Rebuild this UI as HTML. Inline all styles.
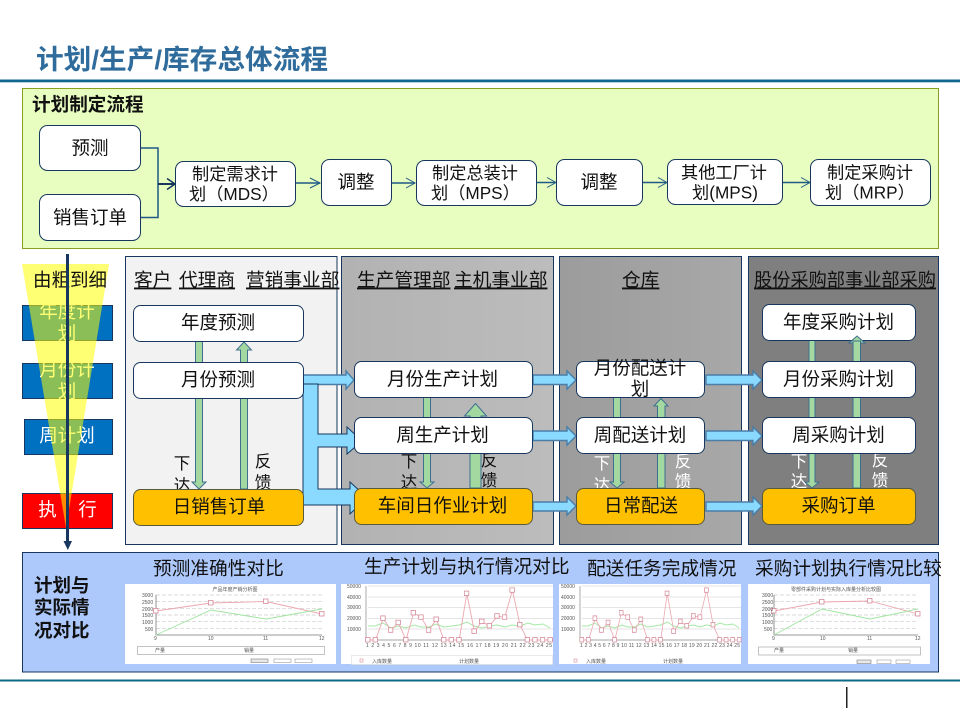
<!DOCTYPE html>
<html><head><meta charset="utf-8"><title>计划/生产/库存总体流程</title>
<style>
html,body{margin:0;padding:0;background:#fff}
svg{display:block;filter:blur(.3px)}
text{font-family:"Liberation Sans","Noto Sans CJK SC",sans-serif;fill:#111}
.c{text-anchor:middle}
.n{fill:#fff;stroke:#17375e;stroke-width:1}
.o{fill:#ffc000;stroke:#5a5a3a;stroke-width:1}
.t{font-size:18.5px}
.s{font-size:17.2px}
.u{font-size:18.7px;text-decoration:underline}
.ln{fill:none;stroke:#1f5a86;stroke-width:1.5}
.g{fill:#a3d9a0;stroke:#3f6f8f;stroke-width:1}
.b{fill:#8ad9ff;stroke:#4a7ea8;stroke-width:1.4}
.tiny{font-size:5px;fill:#555}
.grid{stroke:#ccc;stroke-width:.7;stroke-dasharray:4 2}
.l{font-size:16.5px;text-anchor:middle}
.lw{font-size:16.5px;text-anchor:middle;fill:#fff}
.wt{fill:#fff}
</style></head>
<body>
<svg width="960" height="720" viewBox="0 0 960 720" xmlns="http://www.w3.org/2000/svg">
<defs>
<linearGradient id="p2" x1="0" x2="1" y1="0" y2="0"><stop offset="0" stop-color="#b2b2b2"/><stop offset="1" stop-color="#bcbcbc"/></linearGradient>
<linearGradient id="p3" x1="0" x2="1" y1="0" y2="0"><stop offset="0" stop-color="#9c9c9c"/><stop offset="1" stop-color="#a8a8a8"/></linearGradient>
<marker id="mr" markerUnits="userSpaceOnUse" markerWidth="6" markerHeight="6" refX="3" refY="3"><rect x=".5" y=".5" width="4.5" height="4.5" fill="#fff" stroke="#d88a9a" stroke-width=".8"/></marker>
</defs>

<!-- title -->
<text x="36" y="69" font-size="27" font-weight="bold" style="fill:#2f6c9c" textLength="292" lengthAdjust="spacingAndGlyphs">计划/生产/库存总体流程</text>
<rect x="0" y="79.5" width="960" height="2.8" fill="#0f668f"/>

<!-- top panel -->
<rect x="22.5" y="88.5" width="916" height="160" fill="#e8fdc0" stroke="#8a9f1f" stroke-width="1"/>
<text x="32" y="111" font-size="18.6" font-weight="bold">计划制定流程</text>

<path class="ln" d="M140 148H158V217.5H140"/>
<path d="M158 184H174" fill="none" stroke="#17375e" stroke-width="2"/>
<path d="M167 178.5L175 184L167 189.5" fill="none" stroke="#17375e" stroke-width="1.6"/>
<path class="ln" d="M295 183H320"/><path d="M310 178L320 183L310 188" fill="none" stroke="#1f5a86"/>
<path class="ln" d="M391 183H415"/><path d="M406 178L415 183L406 188" fill="none" stroke="#1f5a86"/>
<path class="ln" d="M536 182.5H555"/><path d="M547 177.5L556 182.5L547 187.5" fill="none" stroke="#1f5a86"/>
<path class="ln" d="M643 182.5H666"/><path d="M658 177.5L667 182.5L658 187.5" fill="none" stroke="#1f5a86"/>
<path class="ln" d="M783 182.5H809"/><path d="M801 177.5L810 182.5L801 187.5" fill="none" stroke="#1f5a86"/>

<rect class="n" x="39.5" y="125.5" width="101" height="45" rx="8"/>
<text class="c t" x="90" y="154.5">预测</text>
<rect class="n" x="39.5" y="194.5" width="101" height="46" rx="8"/>
<text class="c t" x="90" y="224">销售订单</text>

<rect class="n" x="175.5" y="161.5" width="120" height="45" rx="8"/>
<text class="s" x="192" y="180">制定需求计</text>
<text class="s" x="189" y="200">划（MDS）</text>
<rect class="n" x="321.5" y="159.5" width="70" height="46" rx="8"/>
<text class="c t" x="356" y="188.5">调整</text>
<rect class="n" x="416.5" y="160.5" width="120" height="45" rx="8"/>
<text class="s" x="432" y="179">制定总装计</text>
<text class="s" x="431" y="199">划（MPS）</text>
<rect class="n" x="556.5" y="159.5" width="86" height="46" rx="8"/>
<text class="c t" x="599" y="188.5">调整</text>
<rect class="n" x="667.5" y="159.5" width="115" height="45" rx="8"/>
<text class="s c" x="724" y="178.5">其他工厂计</text>
<text class="s c" x="725" y="198.5">划(MPS)</text>
<rect class="n" x="810.5" y="159.5" width="120" height="46" rx="8"/>
<text class="s" x="827" y="178.5">制定采购计</text>
<text class="s" x="825" y="198.5">划（MRP）</text>

<!-- left column -->
<rect x="22.5" y="305.5" width="90" height="35" fill="#0070c0" stroke="#17375e"/>
<rect x="22.5" y="363.5" width="90" height="35" fill="#0070c0" stroke="#17375e"/>
<rect x="24.5" y="419.5" width="88" height="35" fill="#0070c0" stroke="#17375e"/>
<rect x="22.5" y="493.5" width="90" height="35" fill="#ff0000" stroke="#17375e"/>
<text class="c t" x="67" y="318" style="fill:#fff">年度计</text>
<text class="c t" x="67" y="340" style="fill:#fff">划</text>
<text class="c t" x="67" y="376" style="fill:#fff">月份计</text>
<text class="c t" x="67" y="398" style="fill:#fff">划</text>
<text class="c t" x="67" y="442" style="fill:#fff">周计划</text>
<text class="c t" x="47.5" y="516" style="fill:#fff">执</text>
<text class="c t" x="87.5" y="516" style="fill:#fff">行</text>
<polygon points="22,264 109,264 66,528" fill="#ffff00" fill-opacity=".55"/>
<text class="c t" x="70" y="286.5">由粗到细</text>
<path d="M67.5 254V542" stroke="#17375e" stroke-width="3"/>
<polygon points="63.5,541 72,541 67.8,550" fill="#17375e"/>

<!-- swimlanes -->
<rect x="125.5" y="256.5" width="211.5" height="288" fill="#f2f2f2" stroke="#17375e"/>
<rect x="341.5" y="256.5" width="212" height="288" fill="url(#p2)" stroke="#17375e"/>
<rect x="559.5" y="256.5" width="182" height="288" fill="url(#p3)" stroke="#17375e"/>
<rect x="748.5" y="256.5" width="190" height="288" fill="#7f7f7f" stroke="#17375e"/>

<text class="u" x="134" y="286.5">客户</text>
<text class="u" x="179" y="286.5">代理商</text>
<text class="u" x="246" y="286.5">营销事业部</text>
<text class="u" x="357" y="286.5">生产管理部</text>
<text class="u" x="454" y="286.5">主机事业部</text>
<text class="u" x="622" y="286.5">仓库</text>
<text class="u" x="754" y="286.5" textLength="182" lengthAdjust="spacingAndGlyphs">股份采购部事业部采购</text>

<!-- down/feedback labels -->
<text class="l" x="182" y="469">下</text>
<text class="l" x="182" y="491">达</text>
<text class="l" x="263" y="467">反</text>
<text class="l" x="263" y="488">馈</text>
<text class="l" x="409" y="467">下</text>
<text class="l" x="409" y="488">达</text>
<text class="l" x="489" y="466">反</text>
<text class="l" x="489" y="486">馈</text>
<text class="lw" x="602" y="469" style="fill:#fff">下</text>
<text class="lw" x="602" y="491" style="fill:#fff">达</text>
<text class="lw" x="683" y="467" style="fill:#fff">反</text>
<text class="lw" x="683" y="487" style="fill:#fff">馈</text>
<text class="lw" x="799" y="467" style="fill:#fff">下</text>
<text class="lw" x="799" y="487" style="fill:#fff">达</text>
<text class="lw" x="880" y="466" style="fill:#fff">反</text>
<text class="lw" x="880" y="486" style="fill:#fff">馈</text>

<!-- green arrows -->
<polygon class="g" points="195.5,341 202.5,341 202.5,482 206,482 199,489 192,482 195.5,482"/>
<polygon class="g" points="240.5,489 247.5,489 247.5,350 251.5,350 244,342 236.5,350 240.5,350"/>
<polygon class="g" points="423.5,397 430.5,397 430.5,482 434,482 427,488 420,482 423.5,482"/>
<polygon class="g" points="470,488 481,488 481,416 486.5,416 475.5,403.5 464.5,416 470,416"/>
<polygon class="g" points="613.5,397 620.5,397 620.5,482 624,482 617,488 610,482 613.5,482"/>
<polygon class="g" points="657.5,488 665,488 665,406 668,406 661,398.5 654,406 657.5,406"/>
<polygon class="g" points="809,340 815,340 815,482 819,482 812,488 805,482 809,482"/>
<polygon class="g" points="853,488 860.5,488 860.5,343 865,343 857,336 849,343 853,343"/>

<!-- blue arrows -->
<polygon class="b" points="303,375 346,375 346,371 354,380 346,389 346,384.5 303,384.5"/>
<polygon class="b" points="533,375 567,375 567,371 576,380 567,389 567,384.5 533,384.5"/>
<polygon class="b" points="706,375 753,375 753,371 762,380 753,389 753,384.5 706,384.5"/>
<polygon class="b" points="533,431 567,431 567,427 576,436 567,445 567,440.5 533,440.5"/>
<polygon class="b" points="706,431 753,431 753,427 762,436 753,445 753,440.5 706,440.5"/>
<polygon class="b" points="533,502 567,502 567,497 576,506 567,515 567,511 533,511"/>
<polygon class="b" points="706,502 753,502 753,497 762,506 753,515 753,511 706,511"/>
<polygon points="303,384 318,384 318,434 347,434 347,427 362,441 347,454 347,447 318,447 318,489 350,489 350,482 367,497.5 350,514 350,505 303,505" fill="#8ad9ff" stroke="#17375e" stroke-width="1"/>

<!-- nodes -->
<rect class="n" x="133.5" y="305.5" width="170" height="36" rx="7"/>
<text class="c t" x="218" y="329">年度预测</text>
<rect class="n" x="133.5" y="362.5" width="170" height="36" rx="7"/>
<text class="c t" x="218" y="386">月份预测</text>
<rect class="o" x="133.5" y="489.5" width="170" height="36" rx="7"/>
<text class="c t" x="219" y="513">日销售订单</text>

<rect class="n" x="354.5" y="361.5" width="178" height="36" rx="7"/>
<text class="c t" x="442.5" y="385.5">月份生产计划</text>
<rect class="n" x="354.5" y="417.5" width="178" height="36" rx="7"/>
<text class="c t" x="442.5" y="441.5">周生产计划</text>
<rect class="o" x="354.5" y="488.5" width="178" height="36" rx="7"/>
<text class="c t" x="442.5" y="512">车间日作业计划</text>

<rect class="n" x="576.5" y="361.5" width="128" height="36" rx="7"/>
<text class="c t" x="640" y="374.5">月份配送计</text>
<text class="c t" x="640" y="395.5">划</text>
<rect class="n" x="576.5" y="417.5" width="128" height="36" rx="7"/>
<text class="c t" x="640" y="441.5">周配送计划</text>
<rect class="o" x="576.5" y="488.5" width="128" height="36" rx="7"/>
<text class="c t" x="641" y="512">日常配送</text>

<rect class="n" x="762.5" y="304.5" width="153" height="36" rx="7"/>
<text class="c t" x="838.5" y="328.5">年度采购计划</text>
<rect class="n" x="762.5" y="361.5" width="153" height="36" rx="7"/>
<text class="c t" x="838.5" y="385.5">月份采购计划</text>
<rect class="n" x="762.5" y="417.5" width="153" height="36" rx="7"/>
<text class="c t" x="838.5" y="441.5">周采购计划</text>
<rect class="o" x="762.5" y="488.5" width="153" height="36" rx="7"/>
<text class="c t" x="838.5" y="512">采购订单</text>
<polygon points="853,341 853,343 849,343 857,336 865,343 860.5,343 860.5,341" fill="#a3d9a0" stroke="#3f6f8f"/>

<!-- bottom panel -->
<rect x="22.5" y="552.5" width="916" height="119.5" fill="#adc8fa" stroke="#17375e"/>
<text x="34" y="592" font-size="18.5" font-weight="bold">计划与</text>
<text x="34" y="614" font-size="18.5" font-weight="bold">实际情</text>
<text x="34" y="637" font-size="18.5" font-weight="bold">况对比</text>
<text x="153" y="575" font-size="18.7">预测准确性对比</text>
<text x="364" y="573" font-size="18.7">生产计划与执行情况对比</text>
<text x="587" y="575" font-size="18.7">配送任务完成情况</text>
<text x="755" y="575" font-size="18.7">采购计划执行情况比较</text>

<!-- chart images -->
<rect x="125" y="584" width="211" height="80" fill="#fff"/>
<rect x="341" y="584" width="212" height="80" fill="#fff"/>
<rect x="559" y="584" width="182" height="80" fill="#fff"/>
<rect x="748" y="584" width="182" height="80" fill="#fff"/>

<!-- chart 1 -->
<text class="tiny c" x="235" y="591">产品年度产销分析图</text>
<path class="grid" d="M156 595H322M156 601.7H322M156 608.3H322M156 615H322M156 621.7H322M156 628.3H322"/>
<path d="M156 595V635H322" fill="none" stroke="#777" stroke-width=".8"/>
<polyline points="156,611 211,603 266,601.5 322,614" fill="none" stroke="#eba6b0" stroke-width=".9" marker-start="url(#mr)" marker-mid="url(#mr)" marker-end="url(#mr)"/>
<polyline points="156,635 211,610 266,619 322,609" fill="none" stroke="#9fe59f" stroke-width=".9"/>
<text class="tiny" x="142" y="597">3000</text><text class="tiny" x="142" y="604">2500</text><text class="tiny" x="142" y="611">2000</text><text class="tiny" x="142" y="617">1500</text><text class="tiny" x="142" y="624">1000</text><text class="tiny" x="145" y="631">500</text>
<text class="tiny" x="154" y="640">9</text><text class="tiny" x="208" y="640">10</text><text class="tiny" x="263" y="640">11</text><text class="tiny" x="319" y="640">12</text>
<rect x="137.5" y="646.5" width="187" height="8" fill="#fff" stroke="#aaa" stroke-width=".7"/>
<text class="tiny" x="155" y="652">产量</text><text class="tiny" x="244" y="652">销量</text>
<rect x="251" y="659" width="17" height="3.5" fill="#e8e8e8" stroke="#666" stroke-width=".5"/><rect x="274" y="659" width="17" height="3.5" fill="#fff" stroke="#888" stroke-width=".5"/><rect x="295" y="659" width="17" height="3.5" fill="#fff" stroke="#888" stroke-width=".5"/>

<!-- chart 2 -->
<path d="M368 586H553M368 597H553M368 607.5H553M368 618.5H553M368 629H553" stroke="#ddd" stroke-width=".7" fill="none"/>
<path d="M366 586V640H553" fill="none" stroke="#888" stroke-width=".7"/>
<polyline points="368,626 375,626 383,623 391,628 398,626 406,628 414,625 421,627 429,627 436,624 444,627 452,626 459,625 467,622 474,626 482,628 490,626 497,625 505,627 512,625 520,626 528,623 535,625 543,624 550,628" fill="none" stroke="#a4e8a4" stroke-width="1"/>
<polyline points="368,640 375.6,640 383.2,618.4 390.8,630.3 398.4,622.7 406,640 413.6,613 421.2,617.3 428.8,630.3 436.4,619.5 444,640 451.6,640 459.2,640 466.8,593.6 474.4,631.4 482,621.6 489.6,626 497.2,616.2 504.8,617.3 512.4,590.3 520,624.9 527.6,640 535.2,640 542.8,640 550.4,640" fill="none" stroke="#eba6b0" stroke-width=".9" marker-start="url(#mr)" marker-mid="url(#mr)" marker-end="url(#mr)"/>
<text class="tiny" x="347" y="588">50000</text><text class="tiny" x="347" y="599">40000</text><text class="tiny" x="347" y="609">30000</text><text class="tiny" x="347" y="620">20000</text><text class="tiny" x="347" y="631">10000</text>
<text class="tiny" x="366" y="647" textLength="186" lengthAdjust="spacing">1 2 3 4 5 6 7 8 9 10 11 12 13 14 15 16 17 18 19 20 21 22 23 24 25</text>
<rect x="351.5" y="655.5" width="201" height="9" fill="#fff" stroke="#ddd" stroke-width=".6"/>
<rect x="360" y="659" width="3" height="3" fill="none" stroke="#d88a9a" stroke-width=".6"/><text class="tiny" x="372" y="663">入库数量</text><text class="tiny" x="459" y="663">计划数量</text>

<!-- chart 3 -->
<path d="M582 586H741M582 597H741M582 607.5H741M582 618.5H741M582 629H741" stroke="#ddd" stroke-width=".7" fill="none"/>
<path d="M580 586V640H741" fill="none" stroke="#888" stroke-width=".7"/>
<g transform="translate(582,0) scale(.863,1) translate(-368,0)">
<polyline points="368,626 375,626 383,623 391,628 398,626 406,628 414,625 421,627 429,627 436,624 444,627 452,626 459,625 467,622 474,626 482,628 490,626 497,625 505,627 512,625 520,626 528,623 535,625 543,624 550,628" fill="none" stroke="#a4e8a4" stroke-width="1"/>
<polyline points="368,640 375.6,640 383.2,618.4 390.8,630.3 398.4,622.7 406,640 413.6,613 421.2,617.3 428.8,630.3 436.4,619.5 444,640 451.6,640 459.2,640 466.8,593.6 474.4,631.4 482,621.6 489.6,626 497.2,616.2 504.8,617.3 512.4,590.3 520,624.9 527.6,640 535.2,640 542.8,640 550.4,640" fill="none" stroke="#eba6b0" stroke-width=".9" marker-start="url(#mr)" marker-mid="url(#mr)" marker-end="url(#mr)"/>
</g>
<text class="tiny" x="561" y="588">50000</text><text class="tiny" x="561" y="599">40000</text><text class="tiny" x="561" y="609">30000</text><text class="tiny" x="561" y="620">20000</text><text class="tiny" x="561" y="631">10000</text>
<text class="tiny" x="580" y="647" textLength="160" lengthAdjust="spacing">1 2 3 4 5 6 7 8 9 10 11 12 13 14 15 16 17 18 19 20 21 22 23 24 25</text>
<rect x="574" y="659" width="3" height="3" fill="none" stroke="#d88a9a" stroke-width=".6"/><text class="tiny" x="586" y="663">入库数量</text><text class="tiny" x="663" y="663">计划数量</text>

<!-- chart 4 -->
<text class="tiny c" x="836" y="591">零部件采购计划与实际入库量分析比较图</text>
<path class="grid" d="M774 595H918M774 601.7H918M774 608.3H918M774 615H918M774 621.7H918M774 628.3H918"/>
<path d="M774 595V635H918" fill="none" stroke="#777" stroke-width=".8"/>
<polyline points="774,611 822,602 870,601 918,614" fill="none" stroke="#eba6b0" stroke-width=".9" marker-start="url(#mr)" marker-mid="url(#mr)" marker-end="url(#mr)"/>
<polyline points="774,635 822,609 870,619 918,609" fill="none" stroke="#9fe59f" stroke-width=".9"/>
<text class="tiny" x="762" y="597">3000</text><text class="tiny" x="762" y="604">2500</text><text class="tiny" x="762" y="611">2000</text><text class="tiny" x="762" y="617">1500</text><text class="tiny" x="762" y="624">1000</text><text class="tiny" x="764" y="631">500</text>
<text class="tiny" x="772" y="640">9</text><text class="tiny" x="820" y="640">10</text><text class="tiny" x="867" y="640">11</text><text class="tiny" x="915" y="640">12</text>
<rect x="758.5" y="647" width="162" height="8" fill="#fff" stroke="#aaa" stroke-width=".7"/>
<text class="tiny" x="774" y="652">产量</text><text class="tiny" x="848" y="652">销量</text>
<rect x="857" y="660" width="14" height="3.5" fill="#e8e8e8" stroke="#666" stroke-width=".5"/><rect x="877" y="660" width="14" height="3.5" fill="#fff" stroke="#888" stroke-width=".5"/><rect x="896" y="660" width="14" height="3.5" fill="#fff" stroke="#888" stroke-width=".5"/>

<!-- footer -->
<rect x="0" y="679.5" width="960" height="2" fill="#0c6a86"/>
<rect x="846" y="687" width="1.5" height="21" fill="#222"/>
</svg>
</body></html>
